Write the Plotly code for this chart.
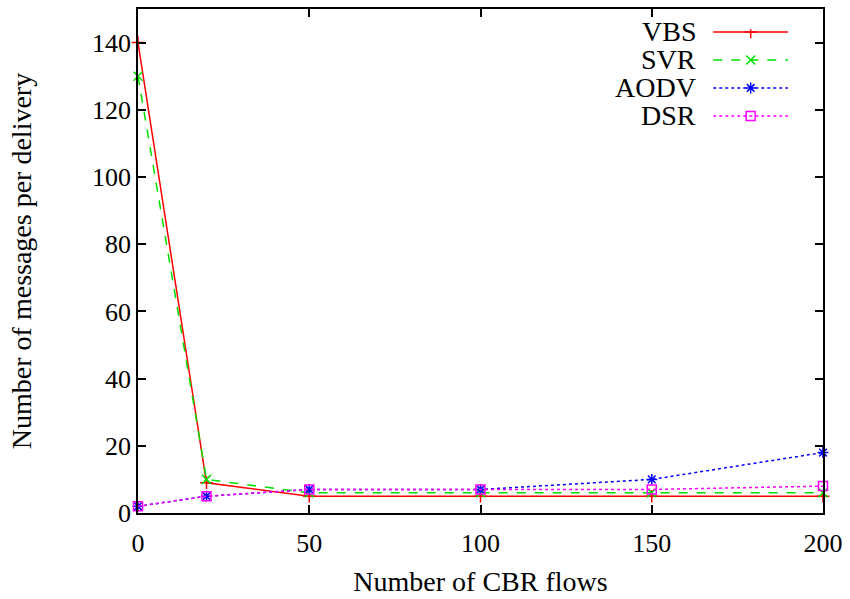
import plotly.graph_objects as go

flows = [0, 20, 50, 100, 150, 200]
vbs = [140, 9, 5, 5, 5, 5]
svr = [130, 10, 6, 6, 6, 6]
aodv = [2, 5, 7, 7, 10, 18]
dsr = [2, 5, 7, 7, 7, 8]

names = ["VBS", "SVR", "AODV", "DSR"]
series = [vbs, svr, aodv, dsr]
colors = ["#ff0000", "#00e000", "#0000ff", "#ff00ff"]
dashes = ["solid", "dash", "dot", "dot"]
symbols = ["cross-thin", "x-thin", "asterisk", "square-open"]
x_ticks = [0, 50, 100, 150, 200]
y_ticks = [0, 20, 40, 60, 80, 100, 120, 140]

FONT = "Liberation Serif, Times New Roman, serif"

fig = go.Figure()
for nm, ys, c, d, s in zip(names, series, colors, dashes, symbols):
    fig.add_trace(go.Scatter(
        x=flows, y=ys, mode="lines+markers", name=nm,
        line=dict(color=c, width=1.5, dash=d),
        marker=dict(symbol=s, size=9, color=c, line=dict(color=c, width=1.5)),
        showlegend=False, cliponaxis=False,
    ))

# custom gnuplot-style legend (text right-aligned, sample to the right) on overlay axes
for i, (nm, c, d, s) in enumerate(zip(names, colors, dashes, symbols)):
    yy = 1 - i
    fig.add_trace(go.Scatter(
        x=[0, 1], y=[yy, yy], mode="lines", xaxis="x2", yaxis="y2",
        line=dict(color=c, width=1.5, dash=d), showlegend=False, hoverinfo="skip"))
    fig.add_trace(go.Scatter(
        x=[0.5], y=[yy], mode="markers", xaxis="x2", yaxis="y2",
        marker=dict(symbol=s, size=9, color=c, line=dict(color=c, width=1.5)),
        showlegend=False, hoverinfo="skip"))
    fig.add_annotation(x=-0.2, y=yy, xref="x2", yref="y2", text=nm,
                       showarrow=False, xanchor="right", yanchor="middle",
                       font=dict(family=FONT, size=28, color="black"))

fig.update_layout(
    width=850, height=599,
    margin=dict(l=138, r=27, t=9, b=86, autoexpand=False),
    paper_bgcolor="white", plot_bgcolor="white",
    font=dict(family=FONT, size=26, color="black"),
    xaxis=dict(range=[0, 200], tickvals=x_ticks, ticks="inside", ticklen=8,
               tickwidth=1.5, tickcolor="black", mirror="allticks",
               showline=True, linecolor="black", linewidth=1.5, showgrid=False,
               zeroline=False, ticklabelstandoff=6, automargin=False,
               title=dict(text="Number of CBR flows", standoff=14,
                          font=dict(family=FONT, size=28)),
               tickfont=dict(family=FONT, size=26)),
    yaxis=dict(range=[0, 150], tickvals=y_ticks, ticks="inside", ticklen=8,
               tickwidth=1.5, tickcolor="black", mirror="allticks",
               showline=True, linecolor="black", linewidth=1.5, showgrid=False,
               zeroline=False, automargin=False,
               title=dict(text="Number of messages per delivery", standoff=52,
                          font=dict(family=FONT, size=28)),
               tickfont=dict(family=FONT, size=26)),
    xaxis2=dict(domain=[0.7307, 0.949], range=[-1, 1], visible=False,
                fixedrange=True, anchor="y2"),
    yaxis2=dict(domain=[0.7266, 0.960], range=[-3.1, 1.1], visible=False,
                fixedrange=True, anchor="x2"),
)

fig.write_html("out.html")
